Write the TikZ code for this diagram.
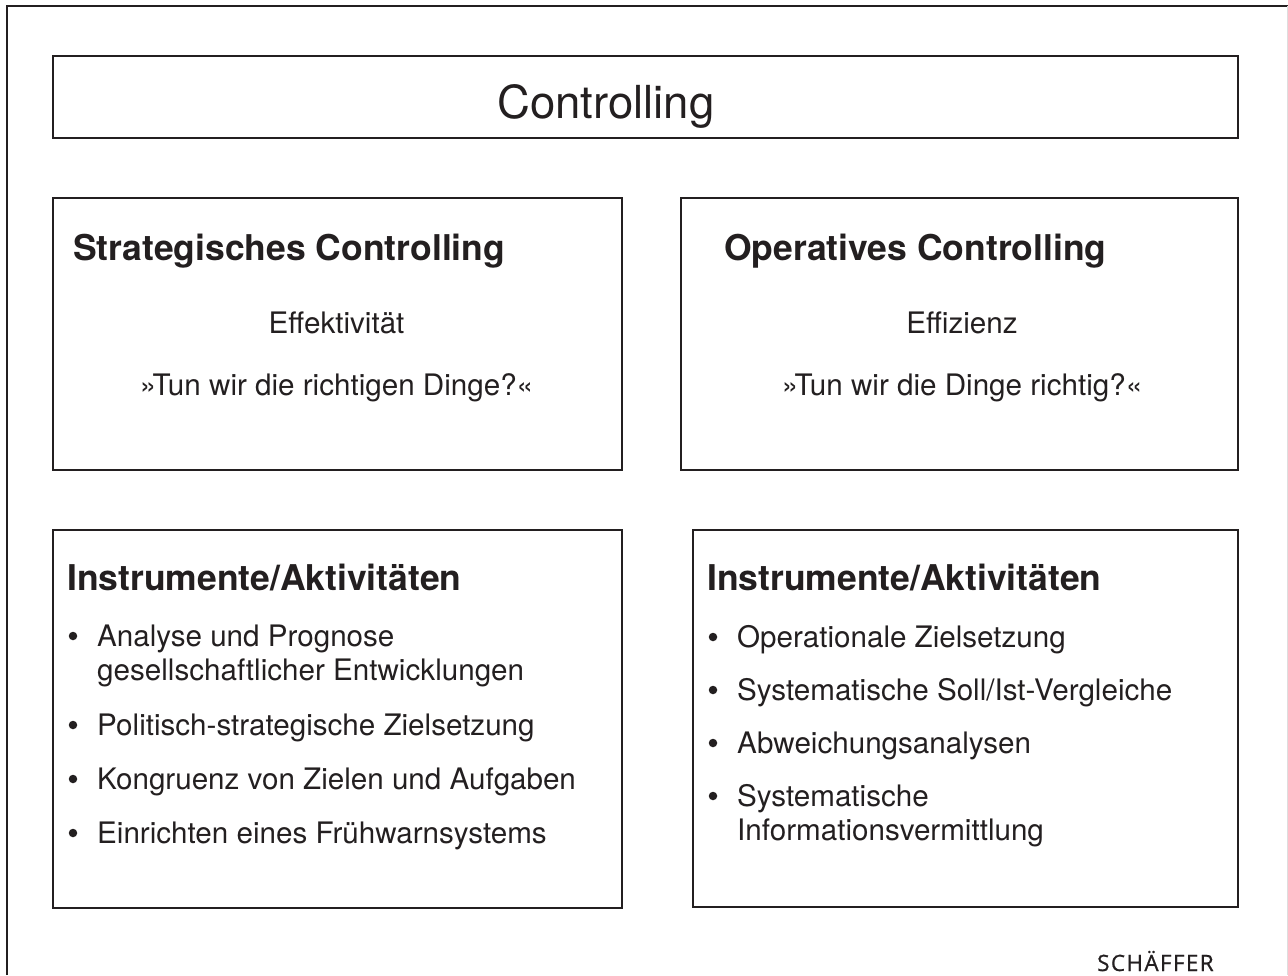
\documentclass[tikz,border=0pt]{standalone}
\usepackage{fontspec}
\setmainfont{TeX Gyre Heros}
\newfontfamily\logofont{Open Sans}
\definecolor{ink}{HTML}{231F20}
\begin{document}
\begin{tikzpicture}[x=1pt,y=-1pt,
  frameline/.style={draw=ink, line width=2pt},
  panel/.style={draw=ink, line width=2pt, anchor=north west, inner sep=0pt},
  txt/.style={anchor=base west, inner sep=0pt, text=ink},
  ctxt/.style={anchor=base, inner sep=0pt, text=ink},
  bodyfont/.style={font=\fontsize{29.6}{35}\selectfont},
  headfont/.style={font=\fontsize{35.5}{42}\selectfont\bfseries},
  body/.style={txt, bodyfont},
  cbody/.style={ctxt, bodyfont},
  head/.style={txt, headfont},
  dot/.style={circle, fill=ink, inner sep=0pt, minimum size=8.5pt}]
\useasboundingbox (0,0) rectangle (1288,975);

% page frame
\coordinate (fbl) at (7,975);
\coordinate (ftl) at (7,6);
\coordinate (ftr) at (1288,6);
\coordinate (rtop) at (1287,6);
\coordinate (rbot) at (1287,975);
\draw[frameline] (fbl) -- (ftl) -- (ftr);
\draw[ink!15, line width=1pt] (rtop) -- (rbot);

% panels
\node[panel, minimum width=1185pt, minimum height=82pt] (title) at (52,55) {};
\node[panel, minimum width=569pt, minimum height=272pt] (strat) at (52,197) {};
\node[panel, minimum width=557pt, minimum height=272pt] (oper) at (680,197) {};
\node[panel, minimum width=569pt, minimum height=378pt] (instrL) at (52,529) {};
\node[panel, minimum width=545pt, minimum height=377pt] (instrR) at (692,529) {};

% title
\node[txt, font=\fontsize{45.5}{52}\selectfont] (ttl) at (497,118) {Controlling};

% strategic / operative
\node[head] (sHead) at (73,260) {Strategisches Controlling};
\node[cbody] (sEff) at (336.5,333) {Effektivität};
\node[cbody] (sQ) at (336.5,395) {»Tun wir die richtigen Dinge?«};

\node[head] (oHead) at (724,260) {Operatives Controlling};
\node[cbody] (oEff) at (962,333) {Effizienz};
\node[cbody] (oQ) at (962,395) {»Tun wir die Dinge richtig?«};

% left instruments
\node[head] (lHead) at (67,590) {Instrumente/Aktivitäten};
\node[dot] (lb1) at (73,636) {};
\node[body] (l1a) at (97,646) {Analyse und Prognose};
\node[body] (l1b) at (97,680) {gesellschaftlicher Entwicklungen};
\node[dot] (lb2) at (73,725) {};
\node[body] (l2) at (97,735) {Politisch-strategische Zielsetzung};
\node[dot] (lb3) at (73,779) {};
\node[body] (l3) at (97,789) {Kongruenz von Zielen und Aufgaben};
\node[dot] (lb4) at (73,833) {};
\node[body] (l4) at (97,843) {Einrichten eines Frühwarnsystems};

% right instruments
\node[head] (rHead) at (707,590) {Instrumente/Aktivitäten};
\node[dot] (rb1) at (713,637) {};
\node[body] (r1) at (737,647) {Operationale Zielsetzung};
\node[dot] (rb2) at (713,690) {};
\node[body] (r2) at (737,700) {Systematische Soll/Ist-Vergleiche};
\node[dot] (rb3) at (713,743) {};
\node[body] (r3) at (737,753) {Abweichungsanalysen};
\node[dot] (rb4) at (713,796) {};
\node[body] (r4a) at (737,806) {Systematische};
\node[body] (r4b) at (737,840) {Informationsvermittlung};

% publisher mark
\node[txt, font=\logofont\fontsize{22.5}{26}\selectfont\addfontfeatures{LetterSpace=6,FakeBold=0.8}] (logo) at (1097,971) {SCHÄFFER};
\end{tikzpicture}
\end{document}
